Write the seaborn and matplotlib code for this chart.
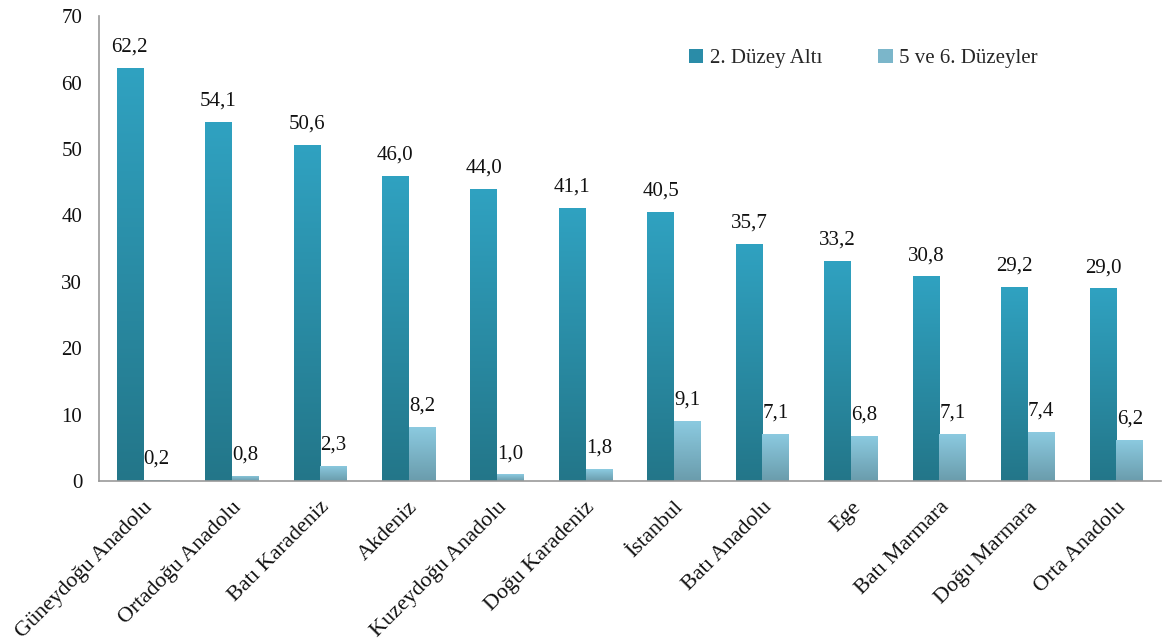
import numpy as np
import pandas as pd
import matplotlib
matplotlib.use("Agg")
import matplotlib.pyplot as plt
from matplotlib.colors import LinearSegmentedColormap
from matplotlib.patches import Patch
import seaborn as sns

regions = ["Güneydoğu Anadolu", "Ortadoğu Anadolu", "Batı Karadeniz", "Akdeniz",
           "Kuzeydoğu Anadolu", "Doğu Karadeniz", "İstanbul", "Batı Anadolu",
           "Ege", "Batı Marmara", "Doğu Marmara", "Orta Anadolu"]
duzey2_alti = [62.2, 54.1, 50.6, 46.0, 44.0, 41.1, 40.5, 35.7, 33.2, 30.8, 29.2, 29.0]
duzey5_6 = [0.2, 0.8, 2.3, 8.2, 1.0, 1.8, 9.1, 7.1, 6.8, 7.1, 7.4, 6.2]
series_names = ["2. Düzey Altı", "5 ve 6. Düzeyler"]
y_ticks = [0, 10, 20, 30, 40, 50, 60, 70]

df = pd.DataFrame({
    "region": regions * 2,
    "value": duzey2_alti + duzey5_6,
    "series": [series_names[0]] * len(regions) + [series_names[1]] * len(regions),
})

sns.set_style("white")
plt.rcParams["font.family"] = ["Liberation Serif", "DejaVu Serif"]

grad = {
    series_names[0]: ("#237689", "#30a2c1"),
    series_names[1]: ("#6a9cac", "#8ccbe1"),
}
mid = {series_names[0]: "#2a8ca8", series_names[1]: "#7bb6ca"}

fig = plt.figure(figsize=(11.63, 6.44), dpi=100)
ax = fig.add_axes([0.085, 0.253, 0.913, 0.722])

sns.barplot(data=df, x="region", y="value", hue="series", order=regions,
            hue_order=series_names, palette=mid, width=0.6, ax=ax,
            legend=False, saturation=1)

ax.set_ylim(0, 70)
ax.set_xlim(-0.5, len(regions) - 0.5)

# gradient fill of the seaborn bars
for container, name in zip(ax.containers, series_names):
    cmap = LinearSegmentedColormap.from_list(name, list(grad[name]))
    for bar, val in zip(container, container.datavalues):
        x0 = bar.get_x(); w = bar.get_width(); h = bar.get_height()
        g = np.linspace(0, 1, 256).reshape(-1, 1)
        im = ax.imshow(g, cmap=cmap, origin="lower", aspect="auto",
                       extent=[x0, x0 + w, 0, h], zorder=2)
        im.set_clip_path(bar)
        bar.set_facecolor("none")
        bar.set_edgecolor("none")
        ax.annotate(f"{val:.1f}".replace(".", ","), (x0 + w / 2, h),
                    xytext=(0, 8), textcoords="offset points",
                    ha="center", va="bottom", fontsize=15, color="#111111")

ax.set_ylim(0, 70)
ax.set_xlim(-0.5, len(regions) - 0.5)
ax.set_yticks(y_ticks)
ax.set_yticklabels([str(t) for t in y_ticks], fontsize=15, color="#111111")

ax.set_xticks(np.arange(len(regions)))
ax.set_xticklabels(regions, rotation=45, ha="right", rotation_mode="anchor",
                   fontsize=16, color="#111111")
ax.tick_params(axis="x", length=0, pad=12)
ax.set_xticks(np.arange(len(regions) + 1) - 0.5, minor=True)
ax.tick_params(axis="x", which="minor", length=7, width=1.2, color="#999999",
               direction="out")
ax.tick_params(axis="y", length=6, width=1.2, color="#999999", direction="out", pad=6)

ax.set_xlabel("")
ax.set_ylabel("")
for s in ["top", "right"]:
    ax.spines[s].set_visible(False)
for s in ["left", "bottom"]:
    ax.spines[s].set_color("#999999")
    ax.spines[s].set_linewidth(1.2)

handles = [Patch(facecolor=mid[n], edgecolor="none", label=n) for n in series_names]
ax.legend(handles=handles, loc="upper left", bbox_to_anchor=(0.538, 0.97),
          ncol=2, frameon=False, fontsize=15, handlelength=0.7, handleheight=0.7,
          handletextpad=0.3, columnspacing=2.7)

fig.savefig("out.png", dpi=100)
